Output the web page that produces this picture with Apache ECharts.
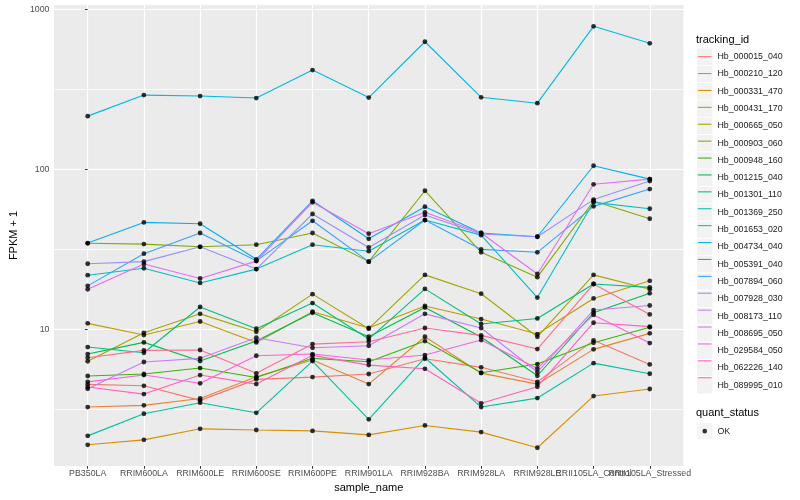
<!DOCTYPE html>
<html><head><meta charset="utf-8">
<script src="https://cdn.jsdelivr.net/npm/echarts@6/dist/echarts.min.js"></script>
<style>html,body{margin:0;padding:0;background:#fff}#c{width:800px;height:500px}</style>
</head><body><div id="c"></div>
<script>
// ---- data ----
const categories = ['PB350LA','RRIM600LA','RRIM600LE','RRIM600SE','RRIM600PE','RRIM901LA','RRIM928BA','RRIM928LA','RRIM928LE','RRII105LA_Control','RRII105LA_Stressed'];
const trackingIds = ['Hb_000015_040','Hb_000210_120','Hb_000331_470','Hb_000431_170','Hb_000665_050','Hb_000903_060','Hb_000948_160','Hb_001215_040','Hb_001301_110','Hb_001369_250','Hb_001653_020','Hb_004734_040','Hb_005391_040','Hb_007894_060','Hb_007928_030','Hb_008173_110','Hb_008695_050','Hb_029584_050','Hb_062226_140','Hb_089995_010'];
const seriesColors = ['#F8766D','#EA8331','#D89000','#C09B00','#A3A500','#7CAE00','#39B600','#00BB4E','#00BF7D','#00C1A3','#00BFC4','#00BAE0','#00B0F6','#35A2FF','#9590FF','#C77CFF','#E76BF3','#FA62DB','#FF62BC','#FF6C91'];

const Hb_000015_040 = [4.53, 4.44, 3.60, 4.87, 5.03, 5.26, 6.55, 5.79, 4.70, 8.54, 6.04];
const Hb_000210_120 = [3.27, 3.35, 3.70, 5.05, 6.43, 4.55, 8.99, 5.33, 4.55, 7.50, 9.44];
const Hb_000331_470 = [1.90, 2.04, 2.39, 2.35, 2.32, 2.19, 2.51, 2.28, 1.82, 3.83, 4.24];
const Hb_000431_170 = [10.9, 9.21, 11.2, 8.29, 12.9, 10.2, 14.0, 11.6, 9.35, 15.6, 20.1];
const Hb_000665_050 = [6.31, 9.52, 12.5, 9.66, 16.6, 10.1, 21.9, 16.7, 8.99, 21.9, 17.8];
const Hb_000903_060 = [34.5, 34.1, 32.8, 33.8, 40.0, 26.5, 73.5, 30.3, 21.2, 63.4, 49.1];
const Hb_000948_160 = [5.11, 5.26, 5.73, 5.00, 6.59, 6.27, 8.45, 5.36, 6.07, 8.25, 10.3];
const Hb_001215_040 = [7.01, 8.29, 6.34, 8.45, 12.7, 8.99, 13.7, 8.95, 5.13, 12.7, 16.8];
const Hb_001301_110 = [7.75, 7.14, 13.8, 10.1, 14.6, 8.70, 17.9, 10.8, 11.7, 19.2, 18.3];
const Hb_001369_250 = [2.16, 2.97, 3.48, 3.01, 6.34, 2.74, 6.65, 3.27, 3.72, 6.15, 5.28];
const Hb_001653_020 = [21.8, 24.1, 19.5, 23.8, 33.8, 30.8, 48.2, 38.8, 15.8, 62.2, 56.7];
const Hb_004734_040 = [215, 291, 287, 279, 417, 281, 627, 282, 259, 783, 613];
const Hb_005391_040 = [34.6, 46.6, 45.7, 27.4, 63.6, 36.8, 58.4, 40.0, 37.9, 105.3, 86.9];
const Hb_007894_060 = [18.7, 29.7, 40.0, 26.8, 47.7, 26.5, 48.2, 31.6, 30.3, 58.7, 75.3];
const Hb_007928_030 = [25.7, 26.5, 32.8, 23.8, 52.6, 32.5, 51.8, 39.4, 37.9, 64.7, 84.5];
const Hb_008173_110 = [4.25, 6.25, 6.59, 8.86, 7.67, 7.90, 12.5, 10.2, 5.41, 13.2, 14.1];
const Hb_008695_050 = [17.8, 25.6, 20.8, 26.7, 62.2, 39.6, 53.9, 40.0, 22.2, 80.6, 86.9];
const Hb_029584_050 = [4.70, 5.18, 4.60, 6.84, 7.01, 6.43, 6.91, 8.57, 5.70, 12.3, 8.21];
const Hb_062226_140 = [4.36, 3.94, 5.18, 4.55, 6.88, 5.98, 5.67, 3.45, 4.38, 11.0, 10.4];
const Hb_089995_010 = [6.65, 7.39, 7.43, 5.31, 8.09, 8.37, 10.2, 9.17, 7.53, 19.2, 12.4];

const seriesValues = [Hb_000015_040, Hb_000210_120, Hb_000331_470, Hb_000431_170, Hb_000665_050,
  Hb_000903_060, Hb_000948_160, Hb_001215_040, Hb_001301_110, Hb_001369_250, Hb_001653_020,
  Hb_004734_040, Hb_005391_040, Hb_007894_060, Hb_007928_030, Hb_008173_110, Hb_008695_050,
  Hb_029584_050, Hb_062226_140, Hb_089995_010];

const yTicks = [10, 100, 1000];
const yTickLabels = ['10', '100', '1000'];
// minor break ranges (log10 space): each overlay axis draws its min and max edge as a grid line
const minorSpans = [[0.5, 1.5], [1.5, 2.5]];
const quantStatus = ['OK'];

// ---- layout helpers ----
const FONT = '"Liberation Sans", Arial, Helvetica, sans-serif';
const PANEL = {left: 45, right: 116.5, top: 5, bottom: 34};
const Y_MIN = 1.40, Y_MAX = 1064;
const panelH = 500 - PANEL.top - PANEL.bottom;
const lgMin = Math.log10(Y_MIN), lgMax = Math.log10(Y_MAX);
const yPix = lg => PANEL.top + (lgMax - lg) / (lgMax - lgMin) * panelH;

const catIdx = categories.map((c, i) => i);
const evenIdx = catIdx.filter(i => i % 2 === 0);
const oddIdx = catIdx.filter(i => i % 2 === 1);
const chart = echarts.init(document.getElementById('c'), null, {renderer: 'canvas'});

const lineSeries = trackingIds.map((id, k) => ({
  name: id, type: 'line', xAxisIndex: 0, yAxisIndex: 0,
  data: seriesValues[k].map((v, i) => [i, v]),
  showSymbol: false, symbol: 'none',
  lineStyle: {color: seriesColors[k], width: 1.1},
  itemStyle: {color: seriesColors[k]},
  silent: true, animation: false, z: 2
}));
const pts = [];
seriesValues.forEach(arr => arr.forEach((v, i) => pts.push([i, v])));
const pointSeries = {
  name: quantStatus[0], type: 'scatter', xAxisIndex: 0, yAxisIndex: 0, data: pts,
  symbol: 'circle', symbolSize: 4.8, itemStyle: {color: '#000'}, silent: true, animation: false, z: 3
};

const legendBase = {orient: 'vertical', left: 697, padding: 0, itemWidth: 15.5, itemHeight: 16.3, itemGap: 1,
  selectedMode: false, textStyle: {fontSize: 8.8, color: '#1A1A1A', fontFamily: FONT}};
const lineIcon = 'path://M0,0 M16,16 M1,7.45 L15,7.45 L15,8.55 L1,8.55 Z';
const dotIcon = 'path://M0,0 M16,16 M8,5.6 A2.4,2.4 0 1 1 7.99,5.6 Z';

const xLabelStyle = {color: '#4D4D4D', fontSize: 8.8, margin: 3, fontFamily: FONT,
  formatter: v => categories[Math.round(v)], hideOverlap: false, showMinLabel: true, showMaxLabel: true};

// overlay grids for minor grid lines
const minorGrids = minorSpans.map(s => ({
  left: PANEL.left, right: PANEL.right, top: yPix(s[1]), bottom: 500 - yPix(s[0]), show: false, containLabel: false
}));
const minorX = minorSpans.map((s, j) => ({gridIndex: j + 1, type: 'value', min: 0, max: 1, show: false}));
const minorY = minorSpans.map((s, j) => ({
  gridIndex: j + 1, type: 'value', min: s[0], max: s[1], interval: 1, z: 1,
  axisLine: {show: false}, axisTick: {show: false}, axisLabel: {show: false},
  splitLine: {show: true, showMinLine: true, showMaxLine: true, lineStyle: {color: '#FFFFFF', width: 0.75}}
}));

chart.setOption({
  backgroundColor: '#fff',
  animation: false,
  textStyle: {fontFamily: FONT},
  title: [
    {text: 'tracking_id', left: 696, top: 34.5, padding: 0, textStyle: {fontSize: 11, fontWeight: 'normal', color: '#000', fontFamily: FONT}},
    {text: 'quant_status', left: 696, top: 407, padding: 0, textStyle: {fontSize: 11, fontWeight: 'normal', color: '#000', fontFamily: FONT}}
  ],
  grid: [Object.assign({show: true, backgroundColor: '#EBEBEB', borderWidth: 0, containLabel: false}, PANEL)].concat(minorGrids),
  xAxis: [
    {
      type: 'value', min: -0.6, max: 10.6, position: 'bottom',
      axisLine: {show: false},
      axisTick: {show: true, length: 2.75, lineStyle: {color: '#333', width: 1}, customValues: catIdx},
      axisLabel: Object.assign({customValues: evenIdx}, xLabelStyle),
      splitLine: {show: true, lineStyle: {color: '#fff', width: 1.2}},
      name: 'sample_name', nameLocation: 'middle', nameGap: 14,
      nameTextStyle: {fontSize: 11, color: '#000', fontFamily: FONT}
    },
    {
      type: 'value', min: -0.6, max: 10.6, position: 'bottom', offset: 0,
      axisLine: {show: false},
      axisTick: {show: false, customValues: oddIdx},
      axisLabel: Object.assign({customValues: oddIdx}, xLabelStyle),
      splitLine: {show: false}
    }
  ].concat(minorX),
  yAxis: [
    {
      type: 'log', logBase: 10, min: Y_MIN, max: Y_MAX, position: 'left',
      axisLine: {show: false},
      axisTick: {show: true, length: 2.75, lineStyle: {color: '#333', width: 1}, customValues: yTicks},
      axisLabel: {customValues: yTicks, formatter: v => yTickLabels[yTicks.indexOf(Math.round(v))], color: '#4D4D4D', fontSize: 8.8, margin: 4.5, fontFamily: FONT,
        showMinLabel: true, showMaxLabel: true},
      splitLine: {show: true, lineStyle: {color: '#FFFFFF', width: 1.2}},
      minorTick: {show: false}, minorSplitLine: {show: false},
      name: 'FPKM + 1', nameLocation: 'middle', nameGap: 28,
      nameTextStyle: {fontSize: 11, color: '#000', fontFamily: FONT}
    }
  ].concat(minorY),
  legend: [
    Object.assign({}, legendBase, {top: 48.5, data: trackingIds, icon: 'rect', itemStyle: {color: '#F2F2F2', borderWidth: 0}}),
    Object.assign({}, legendBase, {top: 48.5, data: trackingIds, icon: lineIcon, itemStyle: {borderWidth: 0}, formatter: () => ''}),
    Object.assign({}, legendBase, {top: 423, data: quantStatus, icon: 'rect', itemStyle: {color: '#F2F2F2', borderWidth: 0}}),
    Object.assign({}, legendBase, {top: 423, data: quantStatus, icon: dotIcon, itemStyle: {color: '#000', borderWidth: 0}, formatter: () => ''})
  ],
  series: lineSeries.concat([pointSeries])
});
</script>
</body></html>
